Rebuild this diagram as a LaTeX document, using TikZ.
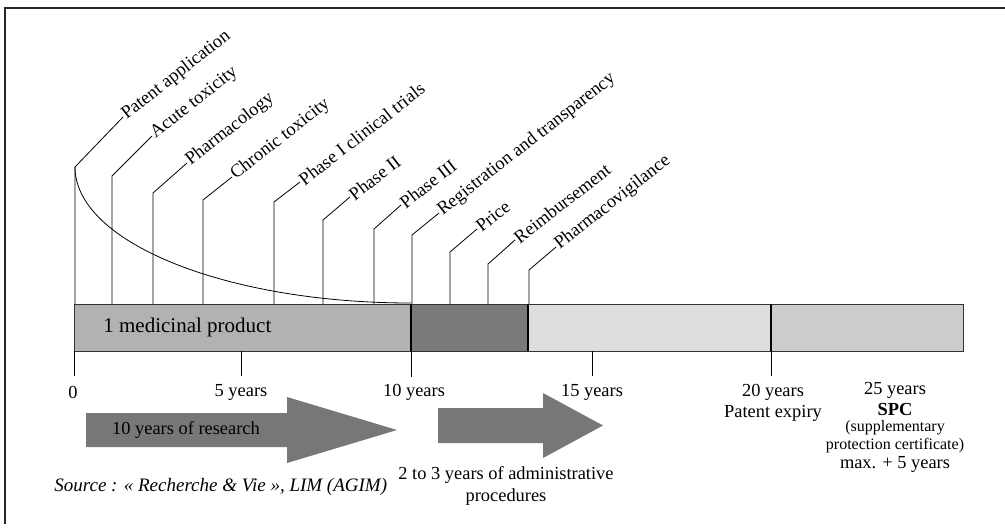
\documentclass[tikz,border=0pt]{standalone}
\usepackage{fontspec}
\setmainfont{Liberation Serif}
\usetikzlibrary{positioning}

\definecolor{researchGray}{HTML}{B2B2B2}
\definecolor{adminGray}{HTML}{7A7A7A}
\definecolor{patentGray}{HTML}{DEDEDE}
\definecolor{spcGray}{HTML}{CCCCCC}
\definecolor{arrowGray}{HTML}{777777}

\tikzset{
  txt/.style={inner sep=0.5pt, font=\fontsize{9.2}{11}\selectfont},
  evlabel/.style={txt, anchor=west, rotate=38},
  segment/.style={draw=black!80, outer sep=0pt, inner sep=0pt,
    minimum height=23.5pt},
  bigarrow/.style={fill=arrowGray},
}

\begin{document}
\begin{tikzpicture}[x=0.5pt,y=-0.5pt]
\useasboundingbox (0,0) rectangle (1005,527);

% Frame
  \draw[line width=0.9pt, black!85] (5,524) -- (5,8) -- (1005,8);

% Bar
  \node[segment, fill=researchGray, minimum width=168.5pt, anchor=west] (research) at (74,327.5) {};
  \node[segment, fill=adminGray,  minimum width=58.5pt,  right=0pt of research] (admin)  {};
  \node[segment, fill=patentGray, minimum width=121.5pt, right=0pt of admin]    (patent) {};
  \node[segment, fill=spcGray,    minimum width=96pt,    right=0pt of patent]   (spc)    {};
  \draw[thick] (admin.north west)  -- (admin.south west);
  \draw[thick] (patent.north west) -- (patent.south west);
  \draw[thick] (spc.north west)    -- (spc.south west);
  \node[txt, anchor=west, font=\fontsize{10.5}{12}\selectfont] (product) at (102,327) {1 medicinal product};

% Event labels
  \node[evlabel] (patentLbl)   at (123,117) {Patent application};
  \node[evlabel] (acuteLbl)    at (152,136) {Acute toxicity};
  \node[evlabel] (pharmaLbl)   at (187,163) {Pharmacology};
  \node[evlabel] (chronicLbl)  at (232,177) {Chronic toxicity};
  \node[evlabel] (phaseOneLbl) at (300,182) {Phase I clinical trials};
  \node[evlabel] (phaseTwoLbl) at (350,197) {Phase II};
  \node[evlabel] (phaseThreeLbl) at (401,205) {Phase III};
  \node[evlabel] (regLbl)      at (439,213) {Registration and transparency};
  \node[evlabel] (priceLbl)    at (477,229) {Price};
  \node[evlabel] (reimbLbl)    at (515,240) {Reimbursement};
  \node[evlabel] (vigilLbl)    at (556,247) {Pharmacovigilance};

  \coordinate (patentBend)     at (75,167);
  \coordinate (acuteBend)      at (112,176);
  \coordinate (pharmaBend)     at (153,193);
  \coordinate (chronicBend)    at (203,200);
  \coordinate (phaseOneBend)   at (274,202);
  \coordinate (phaseTwoBend)   at (323,220);
  \coordinate (phaseThreeBend) at (374,229);
  \coordinate (regBend)        at (412,235);
  \coordinate (priceBend)      at (450,252);
  \coordinate (reimbBend)      at (488,264);
  \coordinate (vigilBend)      at (529,270);

% Edges
  \draw (patentLbl.west)     -- (patentBend)     -- (patentBend |- research.north);
  \draw (acuteLbl.west)      -- (acuteBend)      -- (acuteBend |- research.north);
  \draw (pharmaLbl.west)     -- (pharmaBend)     -- (pharmaBend |- research.north);
  \draw (chronicLbl.west)    -- (chronicBend)    -- (chronicBend |- research.north);
  \draw (phaseOneLbl.west)   -- (phaseOneBend)   -- (phaseOneBend |- research.north);
  \draw (phaseTwoLbl.west)   -- (phaseTwoBend)   -- (phaseTwoBend |- research.north);
  \draw (phaseThreeLbl.west) -- (phaseThreeBend) -- (phaseThreeBend |- research.north);
  \draw (regLbl.west)        -- (regBend)        -- (regBend |- admin.north);
  \draw (priceLbl.west)      -- (priceBend)      -- (priceBend |- admin.north);
  \draw (reimbLbl.west)      -- (reimbBend)      -- (reimbBend |- admin.north);
  \draw (vigilLbl.west)      -- (vigilBend)      -- (vigilBend |- admin.north);

% Curve
  \draw (patentBend) arc[start angle=180, end angle=90, x radius=336, y radius=136];

% Scale
  \node[txt] (yr0)  at (73,392)  {0};
  \node[txt] (yr5)  at (241,392) {5 years};
  \node[txt] (yr10) at (414,392) {10 years};
  \node[txt] (yr15) at (592,392) {15 years};
  \node[txt] (yr20) at (773,392) {20 years};
  \node[txt] (expiry) at (773,413) {Patent expiry};
  \node[txt] (yr25) at (895,390) {25 years};
  \node[txt, font=\fontsize{9.2}{11}\selectfont\bfseries] (spcLbl) at (895,409) {SPC};
  \node[txt, font=\fontsize{8}{9}\selectfont] (spcA) at (895,428) {(supplementary};
  \node[txt, font=\fontsize{8}{9}\selectfont] (spcB) at (895,446) {protection certificate)};
  \node[txt] (spcC) at (895,464) {max. + 5 years};

  \draw (research.south west) -- ++(0,25);
  \draw (241,351) -- ++(0,25);
  \draw (admin.south west) -- ++(0,26);
  \draw (592,351) -- ++(0,25);
  \draw (patent.south east) -- ++(0,25);

% Arrows
  \fill[bigarrow] (86,413) -- (287,413) -- (287,397) -- (397,430) -- (287,463)
    -- (287,447) -- (86,447) -- cycle;
  \node[txt] (researchLbl) at (186,430) {10 years of research};
  \fill[bigarrow] (438,408) -- (543,408) -- (543,393) -- (603,425.5) -- (543,458)
    -- (543,443) -- (438,443) -- cycle;
  \node[txt, align=center] (adminLbl) at (506,486) {2 to 3 years of administrative\\procedures};

% Source
  \node[txt, anchor=west, font=\fontsize{9.5}{11}\selectfont\itshape] (source) at (53,487)
    {Source : « Recherche \& Vie », LIM (AGIM)};

\end{tikzpicture}
\end{document}
